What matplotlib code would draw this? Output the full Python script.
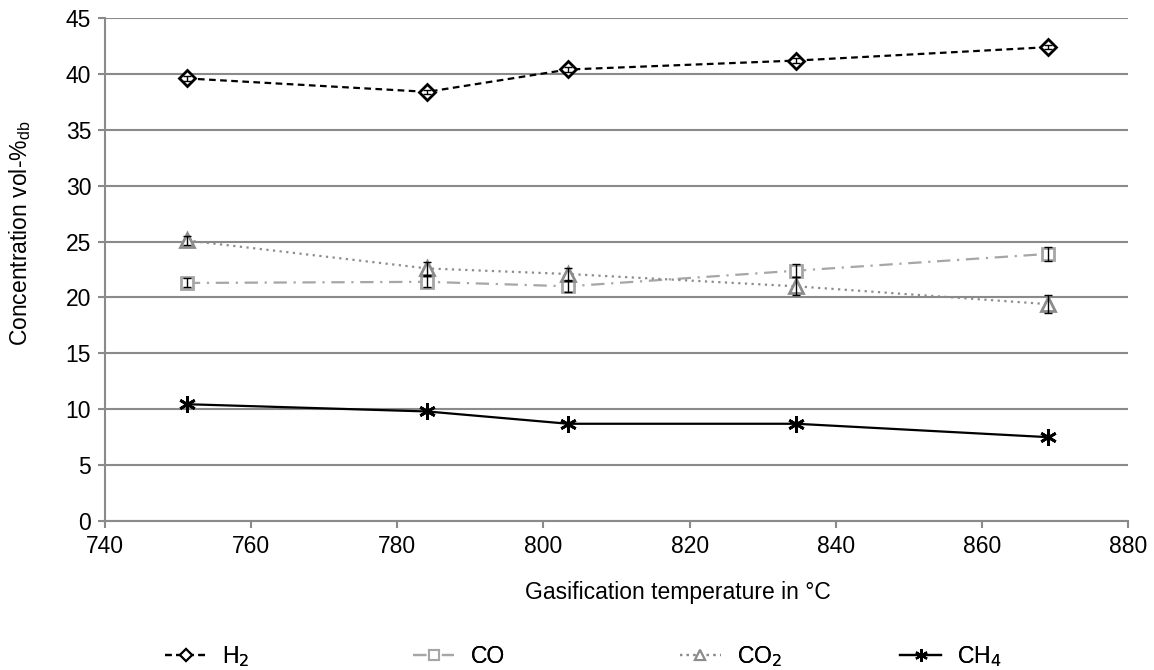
import matplotlib.pyplot as plt
from matplotlib.lines import Line2D

plt.rcParams["font.family"] = ["Liberation Sans", "DejaVu Sans"]

temps = [751.2, 784.1, 803.4, 834.6, 869.1]

h2 = [39.6, 38.4, 40.4, 41.2, 42.4]
h2_err = [0.2, 0.2, 0.2, 0.2, 0.2]
co = [21.3, 21.4, 21.0, 22.4, 23.9]
co_err = [0.4, 0.5, 0.5, 0.6, 0.6]
co2 = [25.1, 22.6, 22.1, 21.0, 19.4]
co2_err = [0.4, 0.6, 0.5, 0.8, 0.8]
ch4 = [10.45, 9.8, 8.7, 8.7, 7.5]
ch4_err = [0.1, 0.1, 0.1, 0.1, 0.1]

series = [
    ("H$_2$", h2, h2_err, "black", (0, (3, 2)), "D", 8),
    ("CO", co, co_err, "#a6a6a6", (0, (6, 3, 1, 3)), "s", 9),
    ("CO$_2$", co2, co2_err, "#8c8c8c", (0, (1, 2)), "^", 10),
    ("CH$_4$", ch4, ch4_err, "black", "-", (6, 2, 0), 12),
]
# left edge of each legend entry, as a fraction of figure width
legend_x = [0.143, 0.358, 0.589, 0.780]

fig = plt.figure(figsize=(11.54, 6.7), dpi=100)
ax = fig.add_axes([0.091, 0.2224, 0.8865, 0.7506])

for (label, vals, err, col, ls, mk, ms), lx in zip(series, legend_x):
    ax.plot(temps, vals, color=col, linestyle=ls, linewidth=1.6, zorder=3)
    ax.plot(temps, vals, linestyle="none", marker=mk, markersize=ms,
            markerfacecolor="white", markeredgecolor=col, markeredgewidth=2,
            zorder=4)
    ax.errorbar(temps, vals, yerr=err, fmt="none", ecolor="black",
                elinewidth=1, capsize=3, capthick=1, zorder=5)
    h = Line2D([], [], color=col, linestyle=ls, linewidth=1.6,
               marker=mk, markersize=ms * 0.75,
               markerfacecolor="white", markeredgecolor=col,
               markeredgewidth=1.5, label=label)
    fig.add_artist(fig.legend(handles=[h], loc="center left",
                              bbox_to_anchor=(lx, 0.02), frameon=False,
                              fontsize=16.5, handlelength=1.8,
                              handletextpad=0.7, borderpad=0,
                              borderaxespad=0))

ax.set_xlim(740, 880)
ax.set_ylim(0, 45)
ax.set_xticks(range(740, 881, 20))
ax.set_yticks(range(0, 46, 5))
ax.yaxis.grid(True, color="#8a8a8a", linewidth=1.5)
ax.set_axisbelow(True)
for s in ["top", "right"]:
    ax.spines[s].set_visible(False)
for s in ["left", "bottom"]:
    ax.spines[s].set_color("#8a8a8a")
    ax.spines[s].set_linewidth(1.5)
ax.tick_params(colors="#8a8a8a", labelcolor="black", labelsize=16.5,
               width=1.5, length=5, pad=5)

fig.text(0.0175, 0.652, "Concentration vol-%$_\\mathregular{db}$",
         rotation=90, ha="center", va="center", fontsize=16.5)
fig.text(0.5875, 0.116, "Gasification temperature in °C",
         ha="center", va="center", fontsize=16.5)

fig.savefig("out.png", dpi=100)
